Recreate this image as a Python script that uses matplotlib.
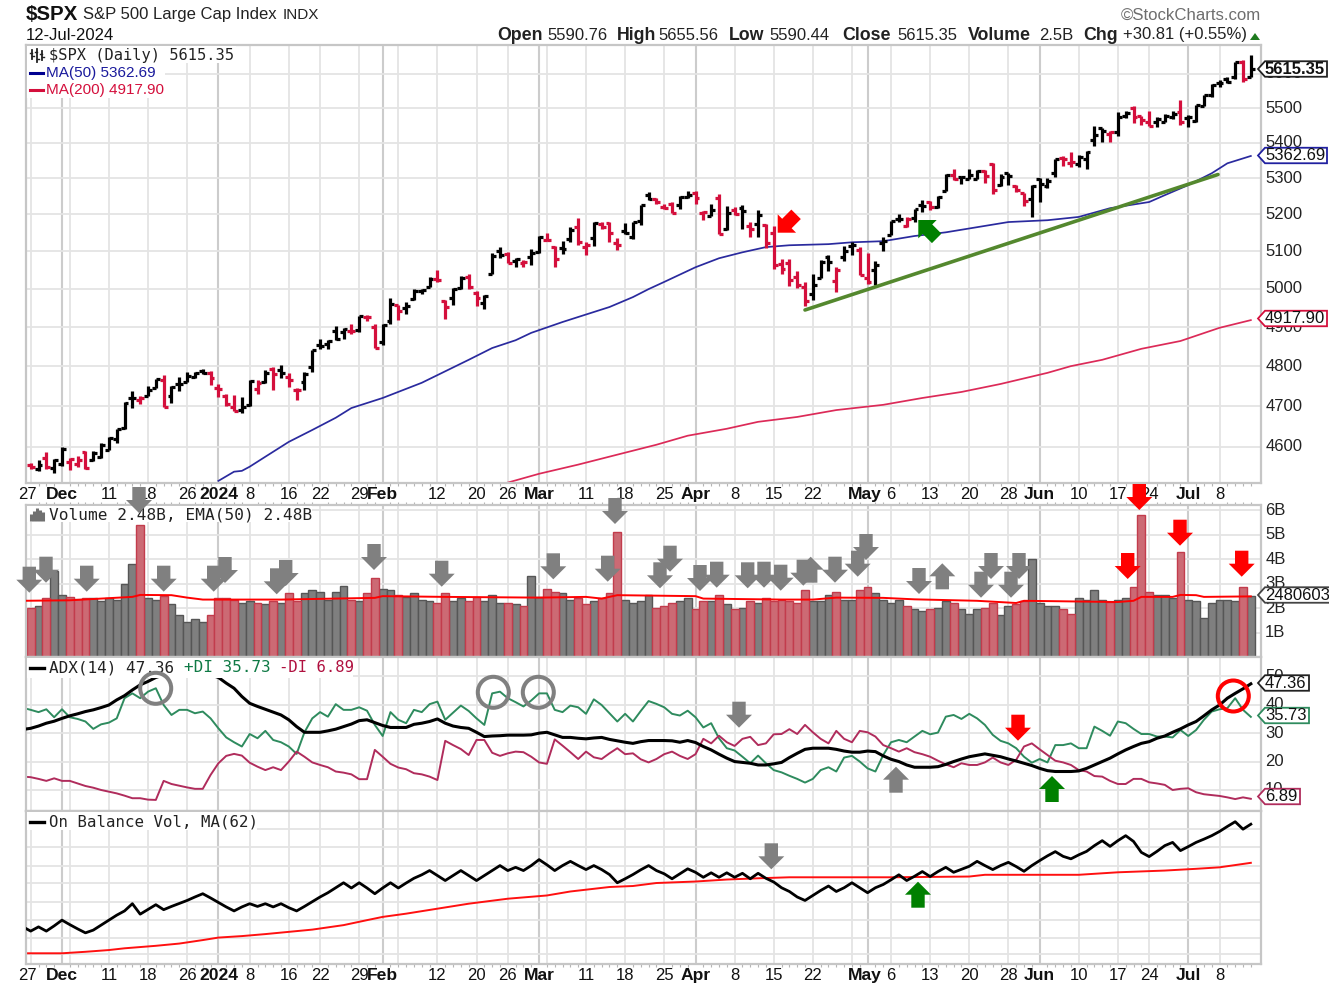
import matplotlib
matplotlib.use('Agg')
import numpy as np
import matplotlib.pyplot as plt
from matplotlib.patches import Polygon, Circle, Rectangle
from matplotlib.collections import LineCollection
from matplotlib.ticker import NullFormatter, FixedLocator
from matplotlib.transforms import ScaledTranslation

# daily bars, 27-Nov-2023 to 12-Jul-2024
prev_close = 4559.34
closes = [4550.4,4554.9,4550.6,4567.8,4594.6,4569.8,4567.2,4549.3,4585.6,4604.4,
          4622.4,4643.7,4707.1,4719.6,4719.2,4740.6,4768.4,4698.4,4746.8,4754.6,
          4774.8,4781.6,4783.4,4769.8,4742.8,4704.8,4688.7,4697.2,4763.5,4756.5,
          4783.5,4780.2,4783.8,4766.0,4739.2,4780.9,4839.8,4850.4,4864.6,4868.6,
          4894.2,4891.0,4927.9,4925.0,4845.7,4906.2,4958.6,4942.8,4954.2,4995.1,
          4997.9,5026.6,5021.8,4953.2,5000.6,5029.7,5005.6,4975.5,4981.8,5087.0,
          5088.8,5069.5,5078.2,5069.8,5096.3,5137.1,5130.95,5078.7,5104.8,5157.4,
          5123.7,5117.9,5175.3,5165.3,5150.5,5117.1,5149.4,5178.5,5224.6,5241.5,
          5234.2,5218.2,5203.6,5248.5,5254.4,5243.8,5205.8,5211.5,5147.2,5204.3,
          5202.4,5209.9,5160.6,5199.1,5123.4,5061.8,5051.4,5022.2,5011.1,4967.2,
          5010.6,5070.6,5071.6,5048.4,5100.0,5116.2,5035.7,5018.4,5064.2,5127.8,
          5180.7,5187.7,5187.67,5214.1,5222.7,5221.4,5246.7,5308.2,5297.1,5303.3,
          5308.1,5321.4,5307.0,5267.8,5304.7,5306.0,5267.0,5235.5,5277.5,5283.4,
          5291.3,5354.0,5353.0,5347.0,5360.8,5375.3,5421.0,5433.7,5431.6,5473.2,
          5487.0,5473.2,5464.6,5447.9,5469.3,5477.9,5482.9,5460.5,5475.1,5509.0,
          5537.0,5567.2,5572.9,5577.0,5633.9,5584.5,5615.35]
opens = [4554.9,4545.6,4571.8,4548.4,4559.4,4564.4,4557.3,4586.2,4568.8,4576.2,
         4593.4,4618.3,4646.2,4721.0,4714.2,4725.6,4743.7,4764.9,4724.3,4753.9,
         4758.9,4773.5,4786.4,4782.9,4745.2,4725.1,4697.4,4690.6,4703.7,4741.9,
         4759.9,4792.1,4791.2,4772.4,4739.1,4760.1,4796.6,4853.4,4856.8,4888.6,
         4886.7,4888.9,4892.9,4925.9,4899.2,4861.1,4916.1,4957.2,4950.2,4973.1,
         4995.2,5004.2,5026.8,4967.9,4976.4,5003.1,5031.1,4989.3,4963.0,5038.8,
         5100.9,5093.0,5074.6,5067.2,5085.4,5098.5,5131.0,5110.5,5108.0,5132.4,
         5164.5,5112.0,5134.3,5173.5,5175.1,5123.3,5154.8,5139.1,5181.0,5253.4,
         5242.5,5219.5,5228.9,5226.3,5248.0,5258.0,5204.3,5194.4,5244.1,5158.9,
         5211.4,5217.0,5167.9,5172.9,5171.5,5149.7,5064.8,5069.0,5031.5,5005.4,
         4987.3,5028.9,5084.7,5019.9,5084.7,5114.1,5103.8,5029.0,5049.3,5122.8,
         5142.4,5187.2,5168.0,5189.0,5225.5,5233.1,5221.1,5263.3,5310.1,5303.1,
         5298.7,5298.7,5319.3,5340.3,5281.5,5315.9,5278.7,5259.8,5243.2,5297.2,
         5278.2,5314.5,5357.8,5343.8,5341.2,5353.8,5409.1,5441.9,5424.1,5431.1,
         5476.2,5500.0,5478.0,5459.6,5460.7,5460.7,5473.6,5488.5,5471.1,5461.3,
         5507.4,5537.9,5572.7,5584.2,5591.3,5635.2,5590.76]
highs = [4560.5,4568.1,4587.6,4569.9,4599.4,4574.1,4578.6,4590.7,4590.9,4609.2,
         4623.0,4643.9,4709.7,4738.6,4725.5,4749.5,4768.7,4778.0,4748.7,4772.9,
         4784.7,4785.4,4793.3,4788.4,4755.0,4729.3,4726.8,4721.5,4764.5,4765.5,
         4790.8,4798.5,4802.4,4782.3,4744.2,4785.8,4842.1,4868.4,4866.5,4903.7,
         4898.2,4906.7,4929.3,4931.1,4906.8,4907.0,4975.3,4957.2,4964.0,4999.9,
         5000.4,5030.1,5048.4,4969.8,5002.5,5032.7,5038.7,4993.7,4983.2,5094.0,
         5111.1,5097.7,5080.7,5077.4,5105.0,5140.3,5149.7,5114.5,5128.0,5165.6,
         5189.3,5124.7,5179.9,5180.0,5179.5,5136.9,5175.6,5180.3,5226.2,5261.1,
         5246.1,5229.1,5235.2,5249.3,5264.9,5264.0,5208.3,5228.8,5256.6,5222.2,
         5219.6,5224.8,5178.4,5211.8,5175.0,5168.4,5079.8,5078.0,5046.5,5019.0,
         5038.8,5076.1,5089.5,5057.7,5114.6,5123.5,5110.8,5096.1,5073.2,5139.1,
         5181.0,5200.2,5192.0,5215.3,5239.7,5237.3,5250.4,5311.8,5325.5,5305.4,
         5325.3,5324.3,5323.2,5341.9,5311.6,5315.9,5282.3,5260.2,5280.3,5302.1,
         5302.0,5354.2,5362.4,5375.1,5365.8,5376.0,5447.2,5441.9,5432.4,5488.5,
         5490.4,5505.5,5478.3,5490.8,5473.3,5484.0,5490.8,5523.6,5479.6,5509.7,
         5539.3,5570.3,5583.1,5590.8,5635.4,5642.5,5655.56]
lows = [4546.3,4540.5,4547.2,4537.2,4554.7,4544.0,4551.7,4546.5,4565.2,4574.1,
        4593.4,4608.1,4643.2,4694.8,4704.1,4725.6,4743.7,4697.8,4708.4,4736.8,
        4758.9,4768.9,4781.0,4752.0,4723.0,4699.7,4687.5,4682.1,4699.8,4730.4,
        4756.2,4739.6,4769.0,4747.1,4714.8,4740.6,4785.9,4844.1,4844.4,4865.9,
        4869.3,4881.5,4887.4,4916.2,4845.2,4853.5,4908.0,4918.1,4934.3,4969.1,
        4987.1,5004.1,5016.8,4920.3,4956.2,4999.4,4999.5,4955.0,4946.0,5038.8,
        5081.5,5068.9,5057.3,5058.4,5061.9,5094.2,5127.2,5056.8,5092.2,5125.4,
        5117.5,5091.1,5114.5,5158.7,5124.0,5104.4,5145.5,5131.6,5171.6,5240.7,
        5229.9,5216.1,5203.4,5213.9,5246.5,5229.2,5184.1,5194.4,5146.1,5157.2,
        5197.4,5160.8,5138.7,5138.8,5107.9,5052.5,5039.8,5007.3,5001.6,4953.6,
        4969.4,5028.0,5047.0,4990.6,5073.1,5088.6,5035.3,5013.5,5011.1,5101.2,
        5142.4,5179.0,5165.9,5180.4,5206.7,5211.2,5218.0,5263.3,5296.2,5283.6,
        5298.7,5297.9,5286.0,5256.9,5278.4,5280.9,5262.7,5222.1,5191.7,5234.3,
        5273.4,5302.4,5335.4,5331.3,5331.5,5327.2,5390.0,5402.5,5403.8,5420.4,
        5471.3,5455.6,5452.0,5447.6,5446.4,5460.7,5467.5,5451.1,5446.5,5458.4,
        5507.4,5531.6,5562.5,5574.6,5586.4,5576.5,5590.44]

prev_volume = 0.82
volume = [2.02,2.09,2.42,3.52,2.53,2.47,2.38,2.42,2.42,2.30,
          2.42,2.35,2.98,3.81,5.42,2.42,2.35,2.49,2.16,1.71,
          1.45,1.57,1.45,1.71,2.42,2.42,2.35,2.23,2.30,2.23,
          2.16,2.30,2.23,2.61,2.30,2.61,2.73,2.68,2.35,2.68,
          2.92,2.35,2.30,2.61,3.25,2.80,2.73,2.54,2.47,2.61,
          2.35,2.30,2.23,2.61,2.30,2.42,2.30,2.47,2.30,2.54,
          2.23,2.23,2.16,2.09,3.31,2.47,2.80,2.68,2.61,2.35,
          2.42,2.16,2.30,2.42,2.61,5.10,2.35,2.23,2.30,2.54,
          2.02,2.09,2.23,2.30,2.42,1.97,2.30,2.30,2.54,2.16,
          1.97,2.02,2.30,2.23,2.42,2.30,2.35,2.30,2.23,2.73,
          2.30,2.30,2.54,2.68,2.35,2.35,2.73,2.87,2.61,2.35,
          2.23,2.35,2.09,1.97,1.90,1.97,2.02,2.30,2.23,1.97,
          1.78,1.97,2.02,2.23,1.71,2.09,2.16,2.30,4.00,2.23,
          2.09,2.09,1.97,1.78,2.42,2.35,2.73,2.35,2.25,2.35,
          2.42,2.87,5.81,2.68,2.54,2.54,2.42,4.28,2.35,2.30,
          1.58,2.23,2.35,2.35,2.30,2.87,2.48]
vol_ema_idx = [-1,5,13,14,18,20,22,32,44,45,53,65,71,73,75,85,86,96,100,103,109,113,121,126,127,139,141,142,146,147,149,150,156]
vol_ema_val = [2.30,2.32,2.46,2.54,2.53,2.43,2.35,2.35,2.42,2.49,2.46,2.43,2.46,2.39,2.53,2.49,2.39,2.35,2.35,2.43,2.42,2.36,2.30,2.21,2.30,2.25,2.30,2.46,2.46,2.54,2.53,2.46,2.48]

# values one session before the first bar, cut by the left edge
prev_adx, prev_plus, prev_minus, prev_obv = 31.3, 38.9, 14.7, 14.9
adx = [31.7,32.5,33.5,34.2,35.2,36.1,36.8,37.6,38.2,39.0,
       39.9,41.7,43.2,45.2,47.0,48.2,49.6,50.5,51.7,52.4,
       52.6,52.4,51.7,50.5,49.6,47.6,45.8,42.9,40.5,39.4,
       38.4,37.4,36.4,34.7,32.3,30.3,30.3,30.3,30.8,31.4,
       32.3,33.2,34.4,34.7,33.7,32.7,32.0,32.0,32.0,33.1,
       33.5,34.1,35.0,33.5,32.5,32.0,31.7,30.3,28.8,29.0,
       29.1,29.3,29.3,29.3,29.4,30.0,30.3,29.4,28.5,28.5,
       28.2,28.0,28.3,28.5,27.8,27.3,26.8,26.4,27.0,27.4,
       27.4,27.4,27.3,26.8,27.4,26.7,25.3,24.1,22.6,21.2,
       20.0,19.7,19.4,18.8,18.8,19.2,19.7,21.4,22.9,24.3,
       24.7,24.7,24.7,24.3,23.7,23.3,23.3,23.7,23.5,22.0,
       20.8,20.0,18.8,18.0,18.0,18.0,18.2,19.0,20.0,20.9,
       21.7,22.2,22.7,22.2,21.7,20.9,20.2,19.4,18.6,17.6,
       16.8,16.5,16.5,16.5,16.7,17.6,18.8,20.0,21.2,22.7,
       24.1,25.3,26.4,27.0,28.2,29.0,30.3,31.5,32.9,34.1,
       36.1,38.2,39.9,42.3,44.0,45.6,47.36]
plus_di = [38.2,37.4,38.4,35.6,38.4,35.6,35.0,34.1,31.5,33.1,
           33.7,35.2,42.3,44.0,42.3,44.6,45.8,39.9,36.4,38.2,
           38.2,37.0,37.6,35.2,31.7,28.5,26.8,25.3,29.7,28.2,
           30.8,27.6,26.8,25.3,22.7,30.3,35.2,37.4,35.8,40.2,
           38.2,38.2,39.1,37.9,32.9,29.0,37.4,34.7,33.5,38.2,
           37.4,40.2,41.1,34.7,37.2,39.7,37.8,35.2,32.9,44.0,
           44.6,42.3,40.9,39.4,41.5,44.0,44.0,38.2,37.4,39.7,
           39.1,36.8,41.9,39.9,37.0,34.1,36.8,34.1,37.8,41.3,
           40.3,39.1,36.8,36.2,37.9,35.6,32.0,33.5,28.2,24.7,
           23.9,21.7,19.4,22.1,19.4,17.0,16.2,15.0,13.9,12.6,
           13.9,17.0,18.0,16.5,21.4,22.0,20.0,17.6,16.5,22.3,
           26.8,27.6,26.8,28.8,30.8,29.6,30.2,35.8,36.4,35.0,
           36.8,35.2,32.9,29.4,27.3,26.4,24.7,21.7,19.6,20.9,
           19.7,25.8,25.8,26.4,24.7,24.7,32.3,30.8,29.1,34.1,
           33.5,31.5,29.7,29.7,28.8,28.8,28.5,31.1,29.0,31.1,
           34.7,37.6,38.4,38.8,42.3,38.2,35.73]
minus_di = [14.5,13.9,13.2,14.1,13.2,13.2,12.3,11.4,10.8,10.0,
            9.4,8.8,8.0,7.1,7.1,6.6,6.5,13.2,12.1,11.5,
            10.9,10.4,10.4,15.3,19.4,22.0,22.7,22.1,19.6,18.2,
            17.0,18.0,17.0,20.0,23.5,21.7,19.7,18.8,18.0,16.5,
            16.1,15.5,13.8,13.8,24.1,21.7,19.2,17.9,17.3,15.9,
            15.5,14.7,13.5,27.3,25.8,24.4,22.3,27.6,27.6,23.1,
            22.0,22.9,23.5,23.3,21.7,19.7,19.2,27.8,25.6,23.3,
            20.9,23.5,21.5,20.9,22.9,24.7,22.6,22.9,20.8,19.7,
            20.9,22.6,23.5,22.0,20.9,22.6,28.0,26.4,29.1,26.8,
            25.5,28.0,28.7,25.8,26.4,29.6,29.7,31.4,29.7,32.9,
            30.3,28.0,26.4,30.8,28.0,26.8,30.8,30.3,28.8,25.8,
            24.7,23.5,24.7,23.3,22.6,21.7,20.3,19.0,18.0,19.4,
            18.8,18.8,19.7,21.4,19.7,18.8,20.6,25.3,26.4,24.3,
            22.3,20.3,19.7,18.8,17.0,16.5,14.9,14.7,13.2,12.1,
            12.1,13.9,13.9,12.7,12.3,11.8,10.0,10.4,10.6,9.2,
            8.5,8.2,7.9,7.4,6.8,7.4,6.89]

obv = [13.2,14.9,13.2,15.3,17.6,15.8,14.1,12.5,13.6,15.6,
       17.6,19.6,21.3,24.2,20.0,21.9,23.8,21.8,23.1,24.3,
       25.5,26.9,28.2,26.5,24.7,22.9,21.3,22.9,24.2,23.1,
       24.2,22.9,24.2,22.6,21.3,23.1,25.0,26.9,28.6,30.6,
       32.6,30.5,32.6,30.5,28.2,30.5,32.6,30.5,32.5,34.4,
       35.8,37.5,35.5,33.5,35.5,37.5,35.5,33.5,35.5,37.5,
       39.5,37.5,38.8,37.5,39.5,41.9,39.8,37.5,39.5,41.2,
       39.5,37.9,39.5,37.9,35.9,32.6,34.2,35.9,37.8,39.5,
       37.5,36.2,34.2,36.2,38.2,36.8,34.8,36.6,34.8,36.6,
       34.8,36.4,34.2,36.4,34.4,32.9,30.6,29.1,26.9,25.5,
       27.5,29.5,31.3,29.1,30.6,32.6,30.6,28.6,30.6,31.9,
       33.8,35.8,33.5,35.2,37.1,35.1,37.1,38.8,36.8,38.0,
       39.2,41.2,39.5,37.9,39.5,40.8,39.1,37.2,39.5,41.5,
       43.4,45.1,43.2,42.2,43.8,45.2,47.5,49.5,47.2,49.5,
       51.5,49.2,44.8,43.1,45.2,47.5,48.8,45.5,47.1,48.8,
       50.1,51.5,53.2,55.2,57.1,54.1,56.1]
obv_ma_idx = [-1,4,7,10,12,16,19,22,24,27,30,34,36,40,43,45,48,52,56,61,66,69,74,77,80,85,89,93,97,110,120,122,134,139,145,149,152,156]
obv_ma_val = [4.3,4.3,4.9,5.6,6.3,7.3,8.2,9.6,10.6,11.2,12.0,13.2,13.8,15.6,17.6,18.9,20.2,22.2,24.2,26.2,27.5,29.1,30.9,31.3,32.5,33.1,33.9,34.4,34.8,34.8,35.1,35.8,35.8,36.8,37.5,38.2,38.8,40.6]

ma50_idx = [24,26,27,28,30,33,36,39,41,45,50,56,59,62,64,68,70,74,77,79,81,85,88,91,94,97,102,105,109,113,117,121,125,130,134,138,143,145,148,151,153,156]
ma50_val = [4518,4540,4542,4552,4576,4612,4641,4671,4695,4720,4758,4816,4846,4866,4885,4913,4926,4952,4978,4999,5018,5057,5081,5097,5111,5116,5119,5124,5127,5141,5151,5165,5179,5184,5193,5217,5234,5253,5281,5314,5342,5362.69]
ma200_idx = [61,65,70,75,80,84,89,93,98,103,109,114,119,124,130,133,137,142,147,152,156]
ma200_val = [4514,4535,4557,4581,4605,4627,4644,4661,4673,4690,4703,4720,4735,4755,4783,4800,4816,4844,4864,4898,4917.9]

# x axis labels
tick_idx = [0,4,10,15,20,24,28,33,37,42,45,52,57,61,65,71,76,81,85,90,95,100,107,110,115,120,125,129,134,139,143,148,152]
tick_txt = ['27','Dec','11','18','26','2024','8','16','22','29','Feb','12','20','26','Mar','11','18','25','Apr','8','15','22','May','6','13','20','28','Jun','10','17','24','Jul','8']
bold_txt = ['Dec','2024','Feb','Mar','Apr','May','Jun','Jul']
month_idx = [4,24,45,65,85,107,129,148]
extra_idx = [5,47,66,105]

price_ticks = [4600,4700,4800,4900,5000,5100,5200,5300,5400,5500,5600]
vol_ticks = [1,2,3,4,5,6]
adx_ticks = [10,20,30,40,50]
obv_grid = [3.9,10.5,17.6,24.9,32.5,39.5,46.8,54.1]

W, H = 1329, 990
SANS = 'Liberation Sans'
MONO = 'DejaVu Sans Mono'
GRID = '#e4e4e4'
EDGE = '#c6c6c6'
RED = '#d40f3c'
XMIN, XMAX = -0.6, 157.3

plt.rcParams['font.family'] = SANS
fig = plt.figure(figsize=(W / 100, H / 100), dpi=100, facecolor='white')


def panel(top, bottom, left=26, right=1261):
    ax = fig.add_axes([left / W, 1 - bottom / H, (right - left) / W, (bottom - top) / H])
    ax.set_xlim(XMIN, XMAX)
    for s in ax.spines.values():
        s.set_color(EDGE)
        s.set_linewidth(1.6)
    ax.set_axisbelow(True)
    ax.xaxis.set_major_locator(FixedLocator(tick_idx))
    ax.xaxis.set_major_formatter(NullFormatter())
    ax.xaxis.set_minor_locator(FixedLocator(range(len(closes))))
    ax.tick_params(axis='x', which='major', length=0)
    ax.tick_params(axis='x', which='minor', length=2, width=0.8, color='#b5b5b5')
    ax.tick_params(axis='y', which='both', length=0, right=True, left=False, labelright=True,
                   labelleft=False, pad=3, labelsize=12, labelcolor='#222222')
    for i in list(tick_idx) + extra_idx:
        heavy = i in month_idx
        ax.axvline(i, color='#cccccc' if heavy else GRID, lw=1.5 if heavy else 1.3, zorder=0.5)
    return ax


def x_labels(ax):
    ax.set_xticklabels(tick_txt)
    ax.tick_params(axis='x', which='major', pad=3)
    for lbl in ax.get_xticklabels():
        lbl.set_fontsize(12)
        lbl.set_color('#111111')
        if lbl.get_text() in bold_txt:
            lbl.set_fontweight('bold')
            lbl.set_fontsize(12.6)
        if lbl.get_text() in ('May', '27'):
            lbl.set_transform(lbl.get_transform() + ScaledTranslation(-3 / 100, 0, fig.dpi_scale_trans))


n = len(closes)
idx = np.arange(n)
prev = np.r_[prev_close, closes[:-1]]
up = np.array(closes) >= prev

# price panel
ax1 = panel(45, 483)
ax1.set_yscale('log')
ax1.set_ylim(4513, 5686)
ax1.yaxis.set_major_locator(FixedLocator(price_ticks))
ax1.yaxis.set_minor_locator(FixedLocator([]))
ax1.set_yticklabels([str(t) for t in price_ticks])
ax1.grid(axis='y', color=GRID, lw=1.3)
cols = ['black' if u else RED for u in up]
segs = []
seg_cols = []
for i in range(n):
    segs.append([(i, lows[i]), (i, highs[i])])
    segs.append([(i - 0.5, opens[i]), (i, opens[i])])
    segs.append([(i, closes[i]), (i + 0.5, closes[i])])
    seg_cols += [cols[i]] * 3
ax1.add_collection(LineCollection(segs, colors=seg_cols, linewidths=2.3, zorder=3))
ax1.plot(ma50_idx, ma50_val, color='#2a2a9e', lw=1.25, zorder=2)
ax1.plot(ma200_idx, ma200_val, color='#dc2a58', lw=1.25, zorder=2)
x_labels(ax1)

# volume panel
ax2 = panel(505, 657)
ax2.set_ylim(0, 6.22)
ax2.yaxis.set_major_locator(FixedLocator(vol_ticks))
ax2.set_yticklabels([f'{t}B' for t in vol_ticks])
ax2.grid(axis='y', color=GRID, lw=1.3)
ax2.bar(np.r_[-1, idx[up]], np.r_[prev_volume, np.array(volume)[up]], width=1.0, color='#7f7f7f',
        edgecolor='#565656', linewidth=1.0, zorder=2)
ax2.bar(idx[~up], np.array(volume)[~up], width=1.0, color='#cc6a74', edgecolor='#c23c4c', linewidth=1.0, zorder=2)
ax2.plot(vol_ema_idx, vol_ema_val, color='#ff0000', lw=1.4, zorder=3)
ax2.tick_params(axis='x', which='minor', top=True, bottom=False)

# ADX panel
ax3 = panel(657, 811)
ax3.set_ylim(2.6, 56.8)
ax3.yaxis.set_major_locator(FixedLocator(adx_ticks))
ax3.set_yticklabels([str(t) for t in adx_ticks])
ax3.grid(axis='y', color=GRID, lw=1.3)
line_x = np.r_[-1, idx]
ax3.plot(line_x, np.r_[prev_plus, plus_di], color='#2e8b5e', lw=1.4, zorder=2)
ax3.plot(line_x, np.r_[prev_minus, minus_di], color='#b02c5c', lw=1.4, zorder=2)
ax3.plot(line_x, np.r_[prev_adx, adx], color='black', lw=2.2, zorder=3)
ax3.tick_params(axis='x', which='minor', length=0)

# OBV panel
ax4 = panel(811, 964)
ax4.set_ylim(0, 61.4)
ax4.yaxis.set_major_locator(FixedLocator(obv_grid))
ax4.yaxis.set_major_formatter(NullFormatter())
ax4.grid(axis='y', color=GRID, lw=1.3)
ax4.plot(line_x, np.r_[prev_obv, obv], color='black', lw=2.0, zorder=3)
ax4.plot(obv_ma_idx, obv_ma_val, color='#ff1010', lw=1.4, zorder=2)
x_labels(ax4)

for ax in (ax1, ax2, ax3):
    for lbl in ax.get_yticklabels():
        lbl.set_transform(lbl.get_transform() + ScaledTranslation(0, 1.5 / 100, fig.dpi_scale_trans))

# overlay in picture pixels for header, legends, tags and hand-drawn annotations
ov = fig.add_axes([0, 0, 1, 1], zorder=10)
ov.set_xlim(0, W)
ov.set_ylim(H, 0)
ov.axis('off')
ov.patch.set_alpha(0)

GREY, GREEN, PURE = '#808080', '#008000', '#ff0000'


def arrow(tip_x, tip_y, color, angle=90, length=26, head=13, head_w=13, shaft_w=6.7):
    # template points along +x, tip at origin end; rotated by angle (screen degrees, y down)
    pts = np.array([(0, 0), (-head, head_w), (-head, shaft_w), (-length, shaft_w),
                    (-length, -shaft_w), (-head, -shaft_w), (-head, -head_w)], float)
    a = np.radians(angle)
    rot = np.array([[np.cos(a), -np.sin(a)], [np.sin(a), np.cos(a)]])
    ov.add_patch(Polygon(pts @ rot.T + (tip_x, tip_y), closed=True, fc=color, ec='none', zorder=6))


def label(x, y, s, size=12, color='#111111', weight='normal', family=SANS, zorder=4):
    ov.text(x, y, s, fontsize=size, color=color, fontweight=weight, family=family,
            ha='left', va='center', zorder=zorder)


def tag(cy, x1, s, color, weight='normal', height=15.5):
    x0 = 1258
    t, b = cy - height / 2, cy + height / 2
    ov.add_patch(Polygon([(x0, cy), (x0 + 7, t), (x1, t), (x1, b), (x0 + 7, b)], closed=True,
                         fc='white', ec=color, lw=1.3, zorder=3))
    ov.text(x0 + 7, cy, s, fontsize=12, color='#111111', fontweight=weight, ha='left', va='center', zorder=4)


# white legend bands hide grid and lines underneath
for bx0, by0, bx1, by1 in [(27, 46, 236, 63), (27, 63, 165, 98), (27, 506, 312, 522), (27, 658, 353, 678), (27, 812, 257, 830)]:
    ov.add_patch(Rectangle((bx0, by0), bx1 - bx0, by1 - by0, fc='white', ec='none', zorder=2))

# header
label(26, 15, '$SPX', size=14.8, weight='bold')
label(83, 15, 'S&P 500 Large Cap Index', size=12, color='#222222')
label(283, 15, 'INDX', size=11, color='#222222')
label(26, 35, '12-Jul-2024', size=12)
label(1121, 15, '\u00a9StockCharts.com', size=12.1, color='#6e6e6e')
head_parts = [(497, 'Open', 1), (547, '5590.76', 0), (617, 'High', 1), (658, '5655.56', 0),
              (729, 'Low', 1), (769, '5590.44', 0), (842, 'Close', 1), (897, '5615.35', 0),
              (968, 'Volume', 1), (1039, '2.5B', 0), (1083, 'Chg', 1), (1123, '+30.81 (+0.55%)', 0)]
for hx, hs, hb in head_parts:
    label(hx, 35, hs, size=12.8 if hb else 12, weight='bold' if hb else 'normal', color='#222222')
ov.add_patch(Polygon([(1250, 40), (1260, 40), (1255, 33)], closed=True, fc='#1f7a1f', ec='none'))

# panel legends
label(49, 55.5, '$SPX (Daily) 5615.35', size=11.1, family=MONO, color='#222222')
ov.plot([30, 43], [72.5, 72.5], color='#000090', lw=2.2, zorder=5)
label(46, 73, 'MA(50) 5362.69', size=11, color='#1a1a9c')
ov.plot([30, 43], [89.5, 89.5], color=RED, lw=2.2, zorder=5)
label(46, 90, 'MA(200) 4917.90', size=11, color=RED)
label(49, 515, 'Volume 2.48B, EMA(50) 2.48B', size=11.6, family=MONO, color='#222222')
ov.plot([30, 44], [668, 668], color='black', lw=2.4, zorder=5)
label(49, 668, 'ADX(14) 47.36', size=11.5, family=MONO, color='#222222')
label(184, 668, '+DI 35.73', size=11.5, family=MONO, color='#0f7a45')
label(279, 668, '-DI 6.89', size=11.2, family=MONO, color='#b0103f')
ov.plot([30, 44], [822, 822], color='black', lw=2.4, zorder=5)
label(49, 822, 'On Balance Vol, MA(62)', size=11.3, family=MONO, color='#222222')

# legend icons
for ix, (y0, y1) in zip([32, 37, 42], [(50, 59), (49, 62), (51, 60)]):
    ov.plot([ix, ix], [y0, y1], color='#222222', lw=1.3, zorder=5)
    ov.plot([ix - 2, ix], [y0 + 3, y0 + 3], color='#222222', lw=1, zorder=5)
    ov.plot([ix, ix + 2], [y1 - 3, y1 - 3], color='#222222', lw=1, zorder=5)
for ix, y0 in zip([31, 34, 37, 40, 43], [514, 511, 508, 510, 512]):
    ov.plot([ix, ix], [y0, 521], color='#707070', lw=2.2, solid_capstyle='butt', zorder=5)

# value tags
tag(69, 1327, '5615.35', '#222222', weight='bold')
tag(155.5, 1327, '5362.69', '#2020a0')
tag(318.5, 1327, '4917.90', RED)
tag(595, 1335, '2480603', '#444444')
tag(683, 1309, '47.36', '#222222')
tag(715.5, 1309, '35.73', '#2e8b5e')
tag(796.5, 1300, '6.89', '#b02c5c')

# trendline
ov.plot([805, 1218], [310, 174.5], color='#54882e', lw=2.6, solid_capstyle='round', zorder=5)

# arrows
grey_down = [(29.3, 592.7), (46, 582.7), (86.7, 591.7), (139, 513), (163.7, 591.7), (213.7, 591.7), (225, 583),
             (276.7, 594.3), (285.7, 586), (374, 570), (441.7, 586.7), (615, 524), (553.3, 579.3), (607.7, 581.7),
             (660, 588.3), (670, 571.7), (700, 591), (716.7, 587.7), (747.7, 588.3), (764, 587.7), (780.7, 590.7),
             (803.3, 585.7), (835, 582.7), (857.7, 576.7), (866, 560), (919, 594), (981, 597.7), (991, 579),
             (1011, 597.7), (1019, 579), (739, 727.7), (771.3, 869.3)]
for ax_, ay_ in grey_down:
    arrow(ax_, ay_, GREY)
for ax_, ay_ in [(810.7, 556.7), (942.3, 563.3), (896, 766.7)]:
    arrow(ax_, ay_, GREY, angle=-90)
for ax_, ay_ in [(1127.7, 579), (1139.3, 510), (1180, 545.7), (1241.7, 576.7), (1018, 740.7)]:
    arrow(ax_, ay_, PURE)
for ax_, ay_ in [(1052, 776), (918, 881.7)]:
    arrow(ax_, ay_, GREEN, angle=-90)
arrow(777.7, 232.7, PURE, angle=135)
arrow(918.3, 220, GREEN, angle=-135)

# circles
for cx, cy in [(155.7, 688.3), (493.3, 692.3), (538.3, 692.3)]:
    ov.add_patch(Circle((cx, cy), 15.5, fc='none', ec=GREY, lw=2.9, zorder=6))
ov.add_patch(Circle((1233.3, 696), 15.5, fc='none', ec=PURE, lw=2.9, zorder=6))

fig.savefig('out.png', dpi=100)
